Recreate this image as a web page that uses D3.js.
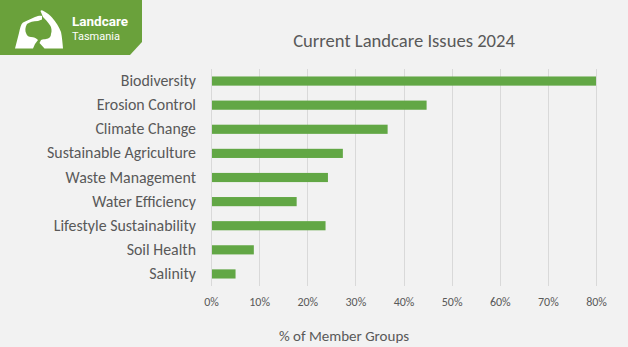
<!DOCTYPE html>
<html>
<head>
<meta charset="utf-8">
<script src="https://cdn.jsdelivr.net/npm/d3@7"></script>
<style>
  html, body { margin: 0; padding: 0; background: #f2f2f2; }
  svg { display: block; }
</style>
</head>
<body>
<div id="chart"></div>
<script>
// issues, top to bottom
var issues = ["Biodiversity", "Erosion Control", "Climate Change", "Sustainable Agriculture",
              "Waste Management", "Water Efficiency", "Lifestyle Sustainability", "Soil Health", "Salinity"];
// share of member groups reporting each issue
var shares = [0.80, 0.448, 0.367, 0.274, 0.243, 0.178, 0.238, 0.089, 0.051];
var tickValues = [0, 0.1, 0.2, 0.3, 0.4, 0.5, 0.6, 0.7, 0.8];

function init(){
    var w = 628;
    var h = 347;
    var textColor = "#595959";
    var font = "Carlito, Calibri, 'Open Sans', sans-serif";

    var svg = d3.select("#chart")
                .append("svg")
                .attr("width", w)
                .attr("height", h);

    svg.append("rect")
        .attr("width", w)
        .attr("height", h)
        .attr("fill", "#f2f2f2");

    // plot area
    var left = 211, right = 596, top = 69, bottom = 286;

    var xScale = d3.scaleLinear()
                    .domain([0, 0.8])
                    .range([left, right]);

    var yScale = d3.scaleBand()
                    .domain(issues)
                    .range([top, bottom])
                    .paddingInner(0.62)
                    .paddingOuter(0.31);

    // vertical gridlines
    svg.append("g")
        .selectAll("line")
        .data(tickValues)
        .enter()
        .append("line")
        .attr("x1", function(d){ return Math.round(xScale(d)) + 0.5; })
        .attr("x2", function(d){ return Math.round(xScale(d)) + 0.5; })
        .attr("y1", top)
        .attr("y2", bottom)
        .attr("stroke", "#d9d9d9")
        .attr("stroke-width", 1);

    // bars
    svg.append("g")
        .selectAll("rect")
        .data(shares)
        .enter()
        .append("rect")
        .attr("x", xScale(0) + 1)
        .attr("y", function(d, i){ return yScale(issues[i]); })
        .attr("width", function(d){ return xScale(d) - xScale(0) - 1; })
        .attr("height", yScale.bandwidth())
        .attr("fill", "#62a745");

    // category labels
    var yAxis = d3.axisLeft(yScale).tickSize(0).tickPadding(0);
    var gy = svg.append("g")
        .attr("transform", "translate(196,0)")
        .call(yAxis);
    gy.select(".domain").remove();
    gy.selectAll("text")
        .attr("fill", textColor)
        .attr("font-family", font)
        .attr("font-size", "15.9px");

    // percent tick labels
    var xAxis = d3.axisBottom(xScale)
                    .tickValues(tickValues)
                    .tickSize(0)
                    .tickPadding(0)
                    .tickFormat(d3.format(".0%"));
    var gx = svg.append("g")
        .attr("transform", "translate(0,297)")
        .call(xAxis);
    gx.select(".domain").remove();
    gx.selectAll("text")
        .attr("fill", textColor)
        .attr("font-family", font)
        .attr("font-size", "12px");

    // chart title
    svg.append("text")
        .attr("x", 404)
        .attr("y", 47)
        .attr("text-anchor", "middle")
        .attr("fill", textColor)
        .attr("font-family", font)
        .attr("font-size", "18.6px")
        .text("Current Landcare Issues 2024");

    // axis title
    svg.append("text")
        .attr("x", 344)
        .attr("y", 341)
        .attr("text-anchor", "middle")
        .attr("fill", textColor)
        .attr("font-family", font)
        .attr("font-size", "15px")
        .text("% of Member Groups");

    // logo badge, top left
    var logo = svg.append("g");
    logo.append("path")
        .attr("d", "M0,0 H142 V42 L130,55 H0 Z")
        .attr("fill", "#6aa13b");

    // two hands cupped around the map of Australia
    logo.append("path")
        .attr("fill", "#ffffff")
        .attr("fill-rule", "evenodd")
        .attr("d",
            // left hand
            "M15,48.5 L19,33 C20,28 21,24 23,22.5 L35,17 C38,16 40,15.5 42,16 L42,19.5 L38,21 " +
            "C33,21 30,22 27,24 C25,27 25,31 26,33 C27,36 29,37 31,37 C34,37 36,38 38,40 " +
            "L35,44 L33,48.5 Z " +
            // right hand
            "M39.5,43 L41,40 C43,39 45,39.5 46,39 C49,38.5 51,37 51,34 C52,31 51.5,28 50.5,26 " +
            "C48,22 45,19 43,17 L40.5,11 C41,10 42,10 43.5,11 C47,13 50,15 52,17.5 " +
            "C56,22 59,27 61,32 C62,37 62.5,42 63,48.5 L44.5,48.5 Z");

    logo.append("text")
        .attr("x", 72)
        .attr("y", 26)
        .attr("fill", "#ffffff")
        .attr("font-family", "Roboto, sans-serif")
        .attr("font-weight", "bold")
        .attr("font-size", "13.5px")
        .text("Landcare");

    logo.append("text")
        .attr("x", 72)
        .attr("y", 39.5)
        .attr("fill", "#ffffff")
        .attr("font-family", "Roboto, sans-serif")
        .attr("font-size", "11px")
        .text("Tasmania");
}

window.onload = init;
</script>
</body>
</html>
